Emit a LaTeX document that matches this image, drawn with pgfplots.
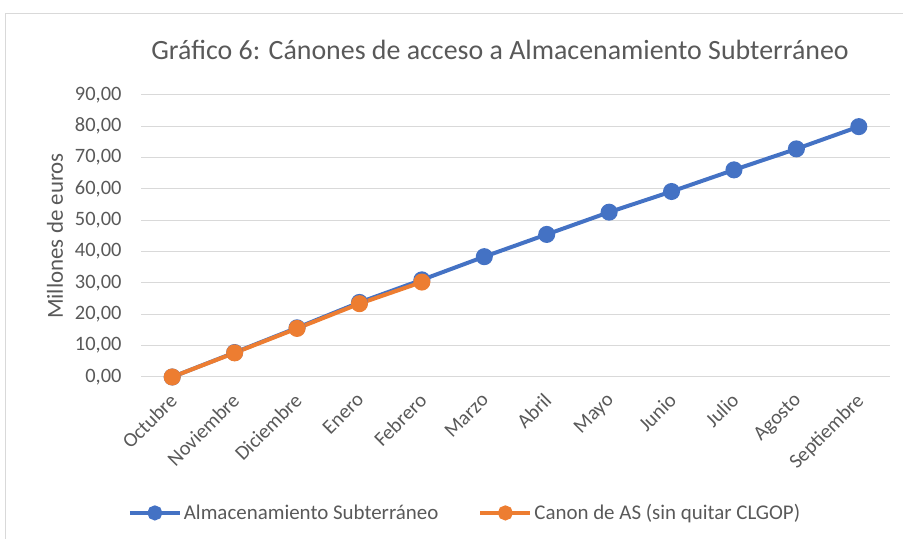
\documentclass[border=0pt]{standalone}
\usepackage{pgfplots}
\pgfplotsset{compat=1.18}
\usepackage{fontspec}
\setmainfont{Carlito}
\definecolor{txt}{HTML}{595959}
\definecolor{gridc}{HTML}{D9D9D9}
\definecolor{sblue}{HTML}{4472C4}
\definecolor{sorange}{HTML}{ED7D31}
\begin{document}
\begin{tikzpicture}[x=1bp,y=1bp]
\useasboundingbox (0,0) rectangle (903,539);
\draw[gridc, line width=1bp] (5,0) -- (5,525) -- (903,525);
\node[text=txt, font=\fontsize{28}{32}\selectfont] at (500,489) {Gráfico 6: Cánones de acceso a Almacenamiento Subterráneo};
\begin{axis}[
  at={(141bp,162bp)}, anchor=south west,
  scale only axis, width=749bp, height=282bp,
  xmin=-0.5, xmax=11.5, ymin=0, ymax=90,
  xtick={0,...,11},
  xticklabels={Octubre,Noviembre,Diciembre,Enero,Febrero,Marzo,Abril,Mayo,Junio,Julio,Agosto,Septiembre},
  ytick={0,10,...,90},
  axis line style={draw=none},
  tick style={draw=none},
  ymajorgrids, grid style={gridc, line width=1bp},
  /pgf/number format/fixed, /pgf/number format/fixed zerofill, /pgf/number format/precision=2,
  /pgf/number format/use comma, /pgf/number format/1000 sep={}, /pgf/number format/assume math mode=true,
  ticklabel style={text=txt, font=\fontsize{20.5}{24}\selectfont},
  xticklabel style={yshift=-10bp, xshift=-4bp, rotate=45, anchor=north east},
  yticklabel style={xshift=-16bp},
  ylabel={Millones de euros},
  ylabel style={at={(axis description cs:-0.1148,0.5)}, anchor=center, text=txt, font=\fontsize{23}{26}\selectfont},
  legend columns=2,
  legend style={at={(0.4326,-0.482)}, anchor=center, draw=none, fill=none, text=txt, font=\fontsize{21}{24}\selectfont, /tikz/every even column/.append style={column sep=38bp}, inner xsep=0pt},
  legend cell align=left,
  legend image code/.code={\draw[#1, mark repeat=2, mark phase=2, mark size=5.5bp] plot coordinates {(0bp,0bp) (25bp,0bp) (50bp,0bp)};},
  clip=false,
]
\draw[gridc, line width=1bp] (axis cs:-0.5,0) -- (axis cs:11.5,0);
\addplot[sblue, line width=4bp, mark=*, mark size=6.5bp, mark options={solid}] coordinates {
(0,0) (1,7.8) (2,15.7) (3,23.8) (4,31.0) (5,38.4) (6,45.5) (7,52.6) (8,59.2) (9,66.1) (10,72.8) (11,79.9)};
\addlegendentry{Almacenamiento Subterráneo}
\addplot[sorange, line width=4bp, mark=*, mark size=6.5bp, mark options={solid}] coordinates {
(0,0) (1,7.7) (2,15.5) (3,23.4) (4,30.3)};
\addlegendentry{Canon de AS (sin quitar CLGOP)}
\end{axis}
\end{tikzpicture}
\end{document}
